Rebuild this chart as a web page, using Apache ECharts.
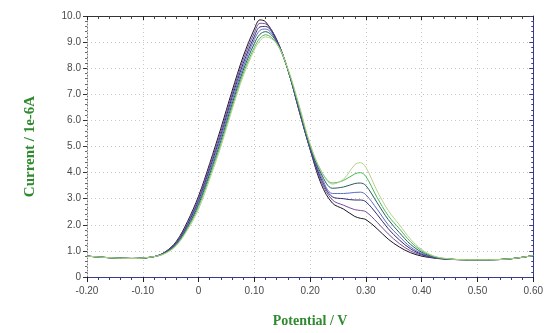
<!DOCTYPE html>
<html>
<head>
<meta charset="utf-8">
<script src="https://cdn.jsdelivr.net/npm/echarts@6/dist/echarts.min.js"></script>
<style>
  html, body { margin: 0; padding: 0; background: #fff; }
  #chart { width: 546px; height: 333px; }
</style>
</head>
<body>
<div id="chart"></div>
<script>
// Potential (V) sample points shared by every voltammogram
const potential = [-0.20, -0.16, -0.12, -0.08, -0.06, -0.04, -0.02, 0.00, 0.02, 0.04, 0.06, 0.08, 0.10, 0.11, 0.12,
  0.14, 0.16, 0.18, 0.20, 0.22, 0.24, 0.26, 0.28, 0.29, 0.30, 0.32, 0.34, 0.36, 0.38, 0.40, 0.42, 0.44, 0.48, 0.52, 0.56, 0.60];

// Current (1e-6 A), one array per scan
const scanA = [0.80, 0.74, 0.71, 0.78, 0.96, 1.36, 2.12, 3.10, 4.35, 5.70, 7.12, 8.45, 9.50, 9.85, 9.78,
  9.10, 7.95, 6.38, 4.88, 3.55, 2.83, 2.60, 2.32, 2.25, 2.20, 1.85, 1.45, 1.15, 0.93, 0.80, 0.73, 0.69, 0.66, 0.66, 0.70, 0.82];
const scanB = [0.80, 0.74, 0.71, 0.78, 0.95, 1.33, 2.06, 3.02, 4.25, 5.58, 7.00, 8.32, 9.36, 9.72, 9.70,
  9.08, 7.95, 6.40, 4.90, 3.65, 2.95, 2.75, 2.58, 2.55, 2.50, 2.10, 1.65, 1.28, 1.00, 0.84, 0.74, 0.69, 0.66, 0.66, 0.70, 0.82];
const scanC = [0.80, 0.74, 0.71, 0.78, 0.94, 1.30, 2.00, 2.93, 4.15, 5.45, 6.88, 8.18, 9.22, 9.58, 9.60,
  9.05, 7.95, 6.42, 4.92, 3.75, 3.07, 3.00, 2.95, 2.95, 2.88, 2.40, 1.85, 1.42, 1.08, 0.87, 0.75, 0.70, 0.66, 0.66, 0.70, 0.82];
const scanD = [0.80, 0.74, 0.71, 0.78, 0.93, 1.28, 1.95, 2.86, 4.05, 5.35, 6.75, 8.05, 9.10, 9.45, 9.50,
  9.02, 7.95, 6.45, 4.95, 3.85, 3.20, 3.20, 3.24, 3.25, 3.15, 2.60, 2.00, 1.55, 1.15, 0.90, 0.76, 0.70, 0.66, 0.66, 0.70, 0.82];
const scanE = [0.80, 0.74, 0.71, 0.78, 0.92, 1.25, 1.90, 2.78, 3.95, 5.22, 6.62, 7.92, 8.95, 9.30, 9.40,
  9.00, 7.95, 6.50, 5.00, 3.95, 3.40, 3.45, 3.58, 3.60, 3.50, 2.85, 2.20, 1.70, 1.25, 0.95, 0.78, 0.70, 0.66, 0.66, 0.70, 0.82];
const scanF = [0.80, 0.74, 0.71, 0.78, 0.91, 1.22, 1.85, 2.70, 3.85, 5.10, 6.50, 7.80, 8.80, 9.15, 9.28,
  8.95, 7.95, 6.55, 5.05, 4.05, 3.60, 3.70, 3.95, 4.00, 3.85, 3.05, 2.35, 1.85, 1.35, 1.00, 0.80, 0.71, 0.66, 0.66, 0.70, 0.82];
const scanG = [0.80, 0.74, 0.71, 0.78, 0.90, 1.20, 1.80, 2.60, 3.75, 5.00, 6.40, 7.70, 8.70, 9.05, 9.20,
  8.95, 8.00, 6.60, 5.10, 4.05, 3.56, 3.75, 4.30, 4.38, 4.20, 3.30, 2.55, 2.00, 1.45, 1.05, 0.82, 0.72, 0.66, 0.66, 0.70, 0.82];

const scans = [scanA, scanB, scanC, scanD, scanE, scanF, scanG];
const scanColors = ['#15151f', '#7a4a9a', '#2a2a70', '#5a6ac8', '#2a5a5a', '#44bb55', '#b8d08a'];

// Axis ticks and their printed labels
const xTicks = [-0.20, -0.10, 0.00, 0.10, 0.20, 0.30, 0.40, 0.50, 0.60];
const xTickLabels = ['-0.20', '-0.10', '0', '0.10', '0.20', '0.30', '0.40', '0.50', '0.60'];
const yTicks = [0, 1, 2, 3, 4, 5, 6, 7, 8, 9, 10];
const yTickLabels = ['0', '1.0', '2.0', '3.0', '4.0', '5.0', '6.0', '7.0', '8.0', '9.0', '10.0'];

function lookup(ticks, labels, v) {
  for (let i = 0; i < ticks.length; i++) {
    if (Math.abs(ticks[i] - v) < 1e-6) return labels[i];
  }
  return '';
}

const titleStyle = {
  color: '#2f8a2f', fontFamily: 'Liberation Serif', fontWeight: 'bold', fontSize: 14
};
const labelStyle = { color: '#4a4a4a', fontFamily: 'Liberation Sans', fontSize: 10 };
const dotted = { color: '#c8c8c8', type: [1, 3], width: 1 };

const chart = echarts.init(document.getElementById('chart'), null, { renderer: 'canvas' });

chart.setOption({
  animation: false,
  backgroundColor: '#ffffff',
  grid: { left: 87, right: 12, top: 16, bottom: 56 },
  xAxis: [
    {
      type: 'value', min: -0.2, max: 0.6, interval: 0.1, position: 'bottom',
      name: 'Potential / V', nameLocation: 'middle', nameGap: 37, nameTextStyle: titleStyle,
      axisLine: { show: true, onZero: false, lineStyle: { color: '#3a3a8a', width: 1 } },
      axisTick: { show: true, inside: false, length: 5, lineStyle: { color: '#222' } },
      minorTick: { show: true, splitNumber: 5, length: 3, lineStyle: { color: '#3a3a8a' } },
      axisLabel: Object.assign({ margin: 9, formatter: v => lookup(xTicks, xTickLabels, v) }, labelStyle),
      splitLine: { show: true, lineStyle: dotted }
    },
    {
      type: 'value', min: -0.2, max: 0.6, interval: 0.1, position: 'top',
      axisLine: { show: true, onZero: false, lineStyle: { color: '#333', width: 1 } },
      axisTick: { show: true, inside: true, length: 4, lineStyle: { color: '#222' } },
      minorTick: { show: true, splitNumber: 5, length: 3, lineStyle: { color: '#444' } },
      axisLabel: { show: false },
      splitLine: { show: false }
    }
  ],
  yAxis: [
    {
      type: 'value', min: 0, max: 10, interval: 1, position: 'left',
      name: 'Current / 1e-6A', nameLocation: 'middle', nameGap: 49, nameRotate: 90,
      nameTextStyle: Object.assign({}, titleStyle, { fontSize: 15 }),
      axisLine: { show: true, onZero: false, lineStyle: { color: '#777', type: [1, 2], width: 1 } },
      axisTick: { show: true, inside: false, length: 4, lineStyle: { color: '#333' } },
      minorTick: { show: true, splitNumber: 5, length: 2, lineStyle: { color: '#666' } },
      axisLabel: Object.assign({ margin: 6, formatter: v => lookup(yTicks, yTickLabels, v) }, labelStyle),
      splitLine: { show: true, lineStyle: dotted }
    },
    {
      type: 'value', min: 0, max: 10, interval: 1, position: 'right',
      axisLine: { show: true, onZero: false, lineStyle: { color: '#3a3a8a', width: 1 } },
      axisTick: { show: true, inside: true, length: 4, lineStyle: { color: '#3a3a8a' } },
      minorTick: { show: true, splitNumber: 5, length: 2, lineStyle: { color: '#3a3a8a' } },
      axisLabel: { show: false },
      splitLine: { show: false }
    }
  ],
  series: scans.map((vals, i) => ({
    type: 'line',
    xAxisIndex: 0,
    yAxisIndex: 0,
    data: potential.map((p, k) => [p, vals[k]]),
    smooth: 0.35,
    showSymbol: false,
    lineStyle: { color: scanColors[i], width: 1 },
    z: 3 + i
  }))
});
</script>
</body>
</html>
